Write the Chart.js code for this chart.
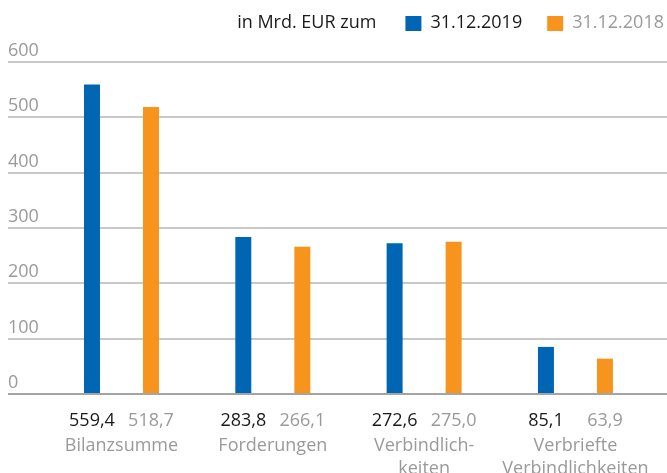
<!DOCTYPE html>
<html>
<head>
<meta charset="utf-8">
<script src="https://cdn.jsdelivr.net/npm/chart.js@4"></script>
<style>
  html, body { margin: 0; padding: 0; background: #fff; }
  #wrap { width: 667px; height: 473px; position: relative; }
</style>
</head>
<body>
<div id="wrap"><canvas id="c" width="667" height="473"></canvas></div>
<script>
const categories = [["Bilanzsumme"], ["Forderungen"], ["Verbindlich-", "keiten"], ["Verbriefte", "Verbindlichkeiten"]];
const values2019 = [559.4, 283.8, 272.6, 85.1];
const values2018 = [518.7, 266.1, 275.0, 63.9];
const valueLabels2019 = ["559,4", "283,8", "272,6", "85,1"];
const valueLabels2018 = ["518,7", "266,1", "275,0", "63,9"];
const seriesNames = ["31.12.2019", "31.12.2018"];
const legendTitle = "in Mrd. EUR zum";
const yTicks = [0, 100, 200, 300, 400, 500, 600];

const BLUE = '#0066b3', ORANGE = '#f7941d', DARK = '#1a1a1a', GREY = '#9a9a9a';
const FONT = '"Open Sans", "Noto Sans", sans-serif';

const overlay = {
  id: 'overlay',
  afterDatasetsDraw(chart) {
    const ctx = chart.ctx;
    const xs = chart.scales.x;
    const zeroY = chart.scales.y.getPixelForValue(0);
    ctx.save();
    ctx.font = '18px ' + FONT;
    ctx.textAlign = 'center';
    ctx.textBaseline = 'middle';
    // value labels under bars
    const labelSets = [valueLabels2019, valueLabels2018];
    const colors = [DARK, GREY];
    chart.data.datasets.forEach((ds, di) => {
      const meta = chart.getDatasetMeta(di);
      meta.data.forEach((bar, i) => {
        ctx.fillStyle = colors[di];
        ctx.fillText(labelSets[di][i], bar.x, zeroY + 27);
      });
    });
    // category labels
    ctx.fillStyle = GREY;
    categories.forEach((lines, i) => {
      const cx = xs.getPixelForValue(i);
      lines.forEach((t, k) => ctx.fillText(t, cx, zeroY + 52 + k * 23));
    });
    // legend
    ctx.textAlign = 'left';
    const ly = 23;
    let x = 664;
    const items = [
      { text: seriesNames[1], color: GREY, box: ORANGE },
      { text: seriesNames[0], color: DARK, box: BLUE }
    ];
    items.forEach((it, k) => {
      const w = ctx.measureText(it.text).width;
      x -= w;
      ctx.fillStyle = it.color;
      ctx.fillText(it.text, x, ly);
      x -= 9 + 16;
      ctx.fillStyle = it.box;
      ctx.fillRect(x, ly - 7, 16, 15);
      x -= (k === 0 ? 25 : 29);
    });
    const wt = ctx.measureText(legendTitle).width;
    ctx.fillStyle = DARK;
    ctx.fillText(legendTitle, x - wt, ly);
    ctx.restore();
  }
};

new Chart(document.getElementById('c'), {
  type: 'bar',
  data: {
    datasets: [
      { label: seriesNames[0], data: values2019.map((v, i) => ({ x: i, y: v })), backgroundColor: BLUE,
        categoryPercentage: 0.78, barPercentage: 0.271 },
      { label: seriesNames[1], data: values2018.map((v, i) => ({ x: i, y: v })), backgroundColor: ORANGE,
        categoryPercentage: 0.78, barPercentage: 0.271 }
    ]
  },
  options: {
    responsive: false,
    animation: false,
    devicePixelRatio: 1,
    layout: { padding: { top: 62, left: 8, right: 0, bottom: 0 } },
    plugins: { legend: { display: false }, tooltip: { enabled: false } },
    scales: {
      x: {
        type: 'linear',
        offset: false,
        min: -0.75,
        max: 3.605,
        afterBuildTicks: axis => { axis.ticks = categories.map((c, i) => ({ value: i })); },
        afterFit: axis => { axis.height = 79; },
        grid: { display: false, offset: false },
        border: { display: false },
        ticks: { display: false, padding: 0 }
      },
      y: {
        min: 0,
        max: 600,
        afterBuildTicks: axis => { axis.ticks = yTicks.map(v => ({ value: v })); },
        border: { display: false },
        grid: {
          drawTicks: false,
          lineWidth: 2,
          color: c => (c.tick && c.tick.value === 0) ? '#a4a4a4' : '#c8c8c8'
        },
        ticks: {
          mirror: true,
          padding: 0,
          labelOffset: -11,
          color: GREY,
          font: { family: FONT, size: 18 }
        }
      }
    }
  },
  plugins: [overlay]
});
</script>
</body>
</html>
